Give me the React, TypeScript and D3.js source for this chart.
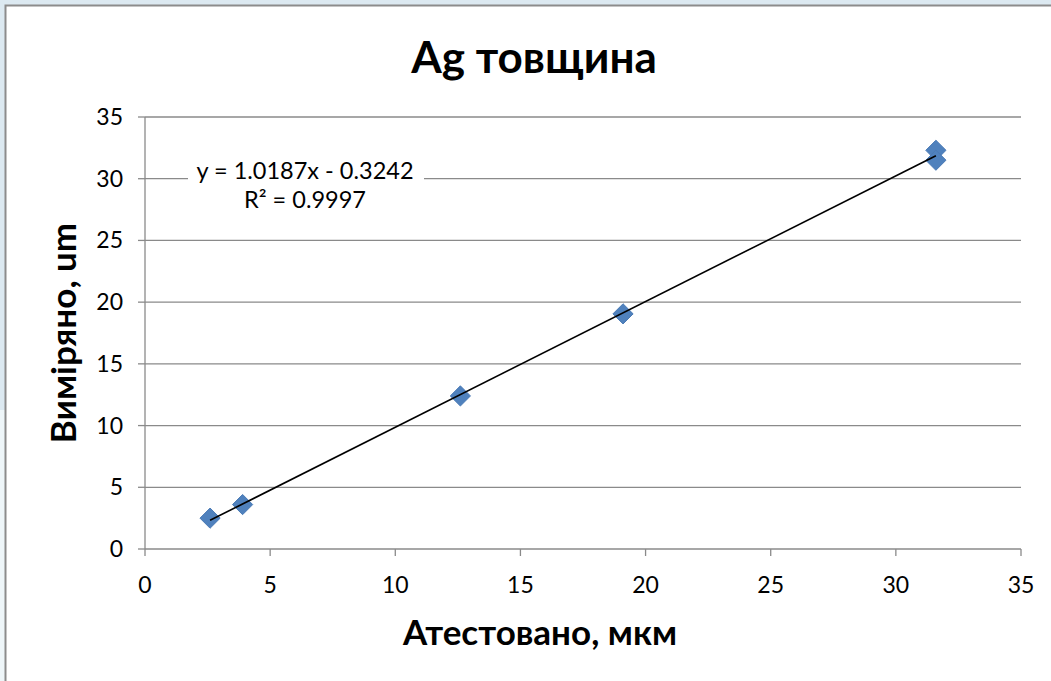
import * as d3 from 'd3';
import React from 'react';

// Атестовано (x) vs Виміряно (y), мкм
const certified = [2.6, 3.9, 12.6, 19.1, 31.6, 31.6];
const measured = [2.5, 3.6, 12.4, 19.05, 32.3, 31.5];
const xTicks = [0, 5, 10, 15, 20, 25, 30, 35];
const yTicks = [0, 5, 10, 15, 20, 25, 30, 35];
const slope = 1.0187;
const intercept = -0.3242;
const eqLines = ['y = 1.0187x - 0.3242', 'R² = 0.9997'];

const W = 1051;
const H = 681;
const font = 'Lato, "Open Sans", sans-serif';

export default function App() {
  const x = d3.scaleLinear().domain([0, 35]).range([145, 1021]);
  const y = d3.scaleLinear().domain([0, 35]).range([549, 117]);
  const axisColor = '#8a8a8a';

  const xMin = d3.min(certified) as number;
  const xMax = d3.max(certified) as number;
  const trend = d3.line<number>()
    .x(d => x(d))
    .y(d => y(slope * d + intercept))([xMin, xMax]);

  const diamond = d3.symbol().type(d3.symbolDiamond2).size(260)();

  return (
    <svg width={W} height={H} style={{ position: 'absolute', left: 0, top: 0, background: '#fff' }}>
      {/* backdrop behind the chart frame */}
      <rect x={0} y={0} width={W} height={6} fill="#dce9f1" />
      <rect x={0} y={0} width={6} height={410} fill="#dce9f1" />
      <rect x={0} y={410} width={6} height={H - 410} fill="#eef6f9" />
      <rect x={5.5} y={5.5} width={W + 10} height={H + 10} fill="#fff" stroke="#8c8c8c" strokeWidth={2} />

      <text x={534} y={73} textAnchor="middle" fontFamily={font} fontWeight="bold" fontSize={44}>
        Ag товщина
      </text>

      {/* gridlines */}
      {yTicks.filter(t => t > 0).map(t => (
        <line key={'g' + t} x1={x(0)} x2={x(35)} y1={y(t)} y2={y(t)} stroke={axisColor} strokeWidth={1.3} />
      ))}

      {/* axes */}
      <line x1={x(0)} x2={x(35)} y1={y(0)} y2={y(0)} stroke={axisColor} strokeWidth={1.3} />
      <line x1={x(0)} x2={x(0)} y1={y(0)} y2={y(35)} stroke={axisColor} strokeWidth={1.3} />
      {xTicks.map(t => (
        <g key={'x' + t}>
          <line x1={x(t)} x2={x(t)} y1={y(0)} y2={y(0) + 7} stroke={axisColor} strokeWidth={1.3} />
          <text x={x(t)} y={y(0) + 44} textAnchor="middle" fontFamily={font} fontSize={23}>{t}</text>
        </g>
      ))}
      {yTicks.map(t => (
        <g key={'y' + t}>
          <line x1={x(0) - 7} x2={x(0)} y1={y(t)} y2={y(t)} stroke={axisColor} strokeWidth={1.3} />
          <text x={x(0) - 22} y={y(t) + 8} textAnchor="end" fontFamily={font} fontSize={23}>{t}</text>
        </g>
      ))}

      {/* equation label */}
      <rect x={188} y={158} width={236} height={56} fill="#fff" />
      {eqLines.map((s, i) => (
        <text key={s} x={305} y={179 + i * 29} textAnchor="middle" fontFamily={font} fontSize={23.5}>{s}</text>
      ))}

      {/* points */}
      {certified.map((c, i) => (
        <path key={'p' + i} d={diamond as string} transform={`translate(${x(c)},${y(measured[i])})`}
          fill="#4f81bd" stroke="#4a7ab5" strokeWidth={1} />
      ))}

      <path d={trend as string} fill="none" stroke="#000" strokeWidth={1.6} />

      <text x={540} y={645} textAnchor="middle" fontFamily={font} fontWeight="bold" fontSize={35}>
        Атестовано, мкм
      </text>
      <text transform={`translate(76,${333}) rotate(-90)`} textAnchor="middle" fontFamily={font} fontWeight="bold" fontSize={35}>
        Виміряно, um
      </text>
    </svg>
  );
}
